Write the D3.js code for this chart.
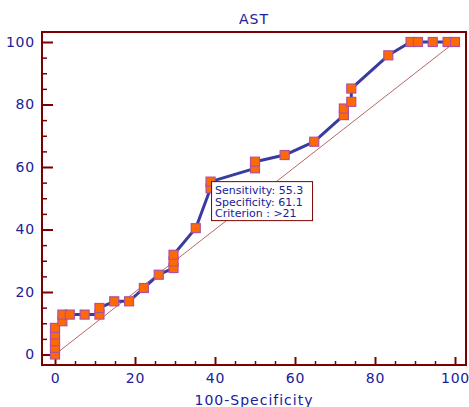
<html>
<head>
<script src='https://d3js.org/d3.v7.min.js'></script>
<style>
body { margin: 0; background: #fff; }
text { font-family: 'DejaVu Sans', sans-serif; fill: #20209a; }
.axis text { font-size: 14px; letter-spacing: 0.8px; }
.axis line { stroke: #7b0000; stroke-width: 2px; }
.axis path { display: none; }
.minor line { stroke-width: 1.5px; }
</style>
</head>
<body>
<svg id="chart" width=469 height=407></svg>
<script>
// ROC points: 100-Specificity (x) and Sensitivity (y)
var fpr = [0, 0, 0, 0, 0, 1.85, 1.85, 3.70, 7.41, 11.11, 11.11, 14.81, 18.52, 22.22, 25.93,
    29.63, 29.63, 29.63, 35.19, 38.89, 38.89, 50.00, 50.00, 57.41, 64.81, 72.22, 72.22,
    74.07, 74.07, 83.33, 88.89, 90.74, 94.44, 98.15, 100];
var tpr = [0, 2.13, 4.26, 6.38, 8.51, 10.64, 12.77, 12.77, 12.77, 12.77, 14.89, 17.02, 17.02,
    21.28, 25.53, 27.66, 29.79, 31.91, 40.43, 53.19, 55.32, 59.57, 61.70, 63.83, 68.09,
    76.60, 78.72, 80.85, 85.11, 95.74, 100, 100, 100, 100, 100];
var majorTicks = [0, 20, 40, 60, 80, 100];
var minorTicks = [5, 10, 15, 25, 30, 35, 45, 50, 55, 65, 70, 75, 85, 90, 95];
var tipLines = ['Sensitivity: 55.3', 'Specificity: 61.1', 'Criterion : >21'];
var tipPoint = {x: 38.89, y: 55.32};

var chart = d3.select('svg');
var pLeft = 42, pRight = 466, pTop = 32, pBottom = 365;
var x = d3.scaleLinear().domain([-3.25, 102.75]).range([pLeft, pRight]);
var y = d3.scaleLinear().domain([-3.36, 103.2]).range([pBottom, pTop]);

// axes (ticks point inward)
chart.append('g').attr('class', 'axis')
    .attr('transform', 'translate(' + pLeft + ',0)')
    .call(d3.axisLeft(y).tickValues(majorTicks).tickSize(-11).tickPadding(7));
chart.append('g').attr('class', 'axis minor')
    .attr('transform', 'translate(' + pLeft + ',0)')
    .call(d3.axisLeft(y).tickValues(minorTicks).tickSize(-5).tickFormat(''));
chart.append('g').attr('class', 'axis')
    .attr('transform', 'translate(0,' + pBottom + ')')
    .call(d3.axisBottom(x).tickValues(majorTicks).tickSize(-8).tickPadding(8));
chart.append('g').attr('class', 'axis minor')
    .attr('transform', 'translate(0,' + pBottom + ')')
    .call(d3.axisBottom(x).tickValues(minorTicks).tickSize(-4).tickFormat(''));

// frame
chart.append('rect')
    .attr('x', pLeft).attr('y', pTop)
    .attr('width', pRight - pLeft).attr('height', pBottom - pTop)
    .attr('fill', 'none').attr('stroke', '#7b0000').attr('stroke-width', 2);

// diagonal reference
chart.append('line')
    .attr('x1', x(0)).attr('y1', y(0)).attr('x2', x(100)).attr('y2', y(100))
    .attr('stroke', '#a83c3c').attr('stroke-width', 0.8);

var pts = fpr.map(function(d, i) { return {x: d, y: tpr[i]}; });
var line = d3.line()
    .x(function(d) { return x(d.x); })
    .y(function(d) { return y(d.y); });
chart.append('path').datum(pts)
    .attr('d', line)
    .attr('fill', 'none')
    .attr('stroke', '#3a3aa0')
    .attr('stroke-width', 3)
    .attr('stroke-linejoin', 'round');

chart.selectAll('.pt').data(pts).enter().append('rect')
    .attr('class', 'pt')
    .attr('x', function(d) { return x(d.x) - 4.5; })
    .attr('y', function(d) { return y(d.y) - 4.5; })
    .attr('width', 9).attr('height', 9)
    .attr('fill', '#ff6a00')
    .attr('stroke', '#b050a0')
    .attr('stroke-width', 1.2);

// criterion box
var tip = chart.append('g')
    .attr('transform', 'translate(' + (x(tipPoint.x) + 1) + ',' + y(tipPoint.y) + ')');
tip.append('rect')
    .attr('width', 101).attr('height', 39)
    .attr('fill', '#fff').attr('stroke', '#7b0000').attr('stroke-width', 1);
tip.selectAll('text').data(tipLines).enter().append('text')
    .attr('x', 3.5)
    .attr('y', function(d, i) { return 12.5 + i * 11.6; })
    .style('font-size', '11px')
    .text(function(d) { return d; });

// titles
chart.append('text')
    .attr('x', (pLeft + pRight) / 2).attr('y', 24)
    .attr('text-anchor', 'middle')
    .style('font-size', '14px').style('letter-spacing', '1px')
    .text('AST');
chart.append('text')
    .attr('x', (pLeft + pRight) / 2).attr('y', 405)
    .attr('text-anchor', 'middle')
    .style('font-size', '14px').style('letter-spacing', '1px')
    .text('100-Specificity');
</script>
</body>
</html>
